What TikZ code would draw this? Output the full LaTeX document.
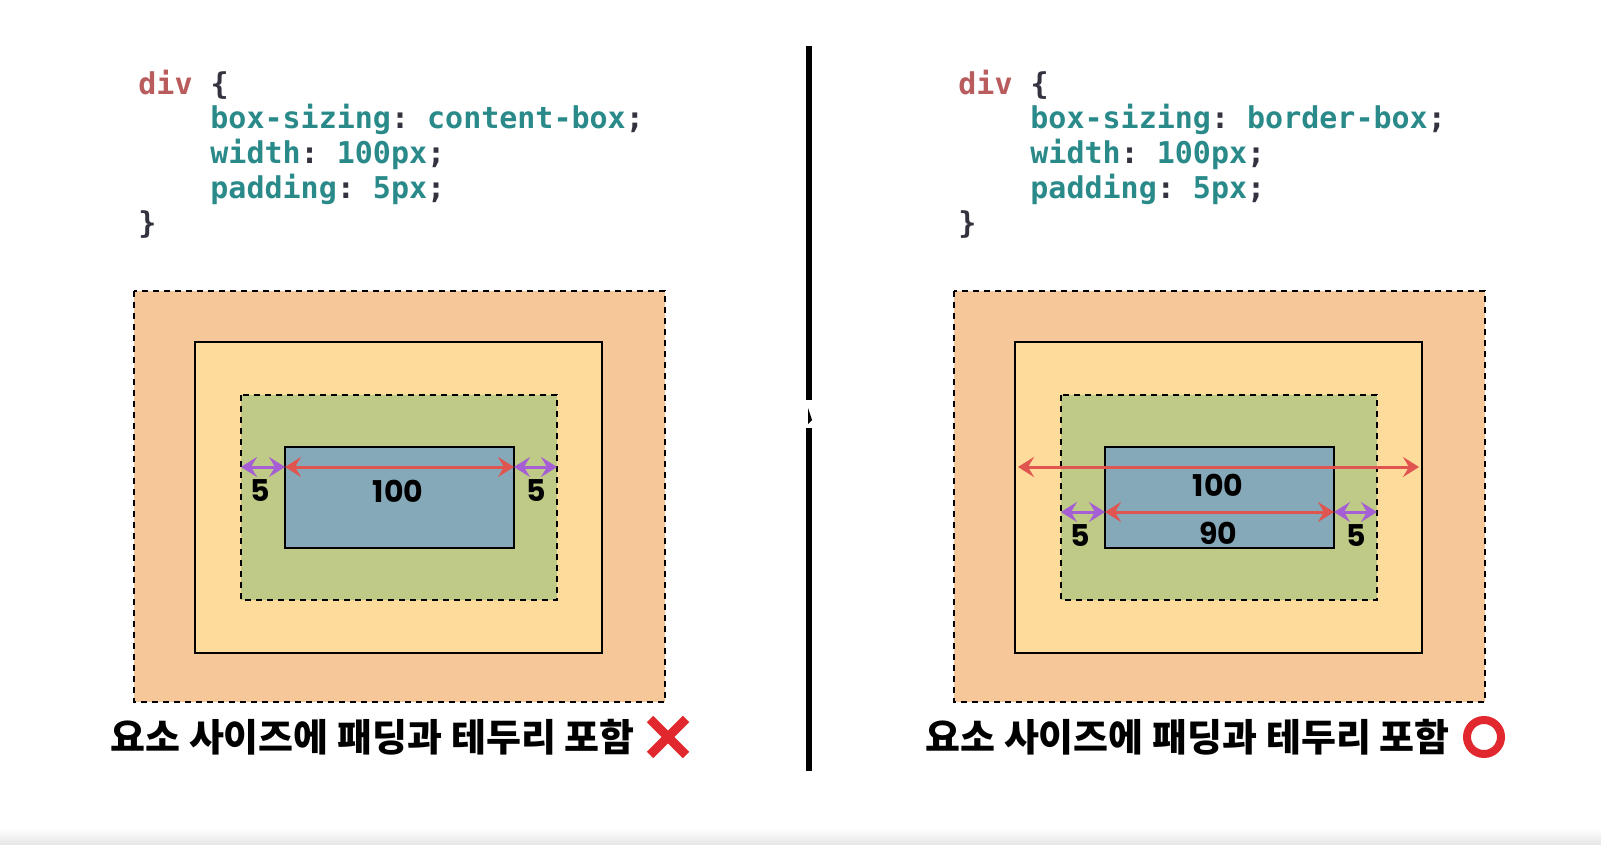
\documentclass[tikz,border=0pt]{standalone}
\usepackage{fontspec}
\usepackage{tikz}
\usetikzlibrary{arrows.meta}

\newfontfamily\codefont{DejaVu Sans Mono}
\newfontfamily\numfont{Poppins}
\newfontfamily\kofont{Noto Sans CJK KR}[BoldFont={Noto Sans CJK KR Black}]

\definecolor{cssred}{HTML}{B95C5E}
\definecolor{cssteal}{HTML}{2A8A8A}
\definecolor{cssdark}{HTML}{333340}
\definecolor{marginc}{HTML}{F6C799}
\definecolor{borderc}{HTML}{FDDB9A}
\definecolor{padc}{HTML}{BFCA86}
\definecolor{contentc}{HTML}{85A9B9}
\definecolor{redarrow}{HTML}{E0554F}
\definecolor{purplearrow}{HTML}{A55ED3}
\definecolor{markred}{HTML}{E0282E}

\tikzset{
	marginbox/.style={fill=marginc, draw=black, line width=1.2pt, dash pattern=on 3pt off 2.5pt},
	borderbox/.style={fill=borderc, draw=black, line width=1.2pt},
	padbox/.style={fill=padc, draw=black, line width=1.2pt, dash pattern=on 3pt off 2.5pt},
	contentbox/.style={fill=contentc, draw=black, line width=1.2pt},
	widtharrow/.style={redarrow, line width=1.5pt, {Stealth[length=8pt,width=10pt,inset=3pt]}-{Stealth[length=8pt,width=10pt,inset=3pt]}},
	padarrow/.style={purplearrow, line width=1.5pt, {Stealth[length=8pt,width=10pt,inset=3pt]}-{Stealth[length=8pt,width=10pt,inset=3pt]}},
	codeline/.style={anchor=base west, inner sep=0pt, font=\codefont\bfseries\fontsize{15}{18}\selectfont\frenchspacing},
	numlabel/.style={inner sep=0pt, font=\numfont\bfseries\fontsize{15}{18}\selectfont},
	caption/.style={inner sep=0pt, font=\kofont\bfseries\fontsize{19}{22}\selectfont}
}

\begin{document}
\begin{tikzpicture}[x=0.5pt,y=-0.5pt]
	
	\useasboundingbox (0,0) rectangle (1601,845);
	\fill[white] (0,0) rectangle (1601,845);
	\shade[top color=white, bottom color=black!10] (0,828) rectangle (1601,845);
	
	% left: content-box
	\node[codeline] (ldiv) at (138,95) {{\color{cssred}div} {\color{cssdark}\{}};
	\node[codeline] (lsizing) at (210,129) {{\color{cssteal}box-sizing}{\color{cssdark}:} {\color{cssteal}content-box}{\color{cssdark};}};
	\node[codeline] (lwidth) at (210,164) {{\color{cssteal}width}{\color{cssdark}:} {\color{cssteal}100px}{\color{cssdark};}};
	\node[codeline] (lpad) at (210,199) {{\color{cssteal}padding}{\color{cssdark}:} {\color{cssteal}5px}{\color{cssdark};}};
	\node[codeline] (lend) at (138,234) {{\color{cssdark}\}}};
	
	\draw[marginbox] (134,291) rectangle (665,702);
	\draw[borderbox] (195,342) rectangle (602,653);
	\draw[padbox] (241,395) rectangle (557,600);
	\draw[contentbox] (285,447) rectangle (514,548);
	
	\coordinate (lp1) at (241,467);
	\coordinate (lc1) at (285,467);
	\coordinate (lc2) at (514,467);
	\coordinate (lp2) at (557,467);
	\draw[padarrow] (lp1) -- (lc1);
	\draw[widtharrow] (lc1) -- (lc2);
	\draw[padarrow] (lc2) -- (lp2);
	
	\node[numlabel] (lfive1) at (260,491) {5};
	\node[numlabel] (lhundred) at (398,491) {100};
	\node[numlabel] (lfive2) at (536,491) {5};
	
	\node[caption, anchor=west] (lcaption) at (110,737) {요소 사이즈에 패딩과 테두리 포함};
	\coordinate (lx) at (668,737);
	\draw[markred, line width=4.5pt] ([shift={(-18,-18)}]lx) -- ([shift={(18,18)}]lx);
	\draw[markred, line width=4.5pt] ([shift={(-18,18)}]lx) -- ([shift={(18,-18)}]lx);
	
	% divider
	\draw[black, line width=3.2pt] (809,46) -- (809,400);
	\draw[black, line width=3.2pt] (809,428) -- (809,771);
	\fill[black] (808,408) -- (812,420) -- (808,424) -- cycle;
	
	% right: border-box
	\node[codeline] (rdiv) at (958,95) {{\color{cssred}div} {\color{cssdark}\{}};
	\node[codeline] (rsizing) at (1030,129) {{\color{cssteal}box-sizing}{\color{cssdark}:} {\color{cssteal}border-box}{\color{cssdark};}};
	\node[codeline] (rwidth) at (1030,164) {{\color{cssteal}width}{\color{cssdark}:} {\color{cssteal}100px}{\color{cssdark};}};
	\node[codeline] (rpad) at (1030,199) {{\color{cssteal}padding}{\color{cssdark}:} {\color{cssteal}5px}{\color{cssdark};}};
	\node[codeline] (rend) at (958,234) {{\color{cssdark}\}}};
	
	\draw[marginbox] (954,291) rectangle (1485,702);
	\draw[borderbox] (1015,342) rectangle (1422,653);
	\draw[padbox] (1061,395) rectangle (1377,600);
	\draw[contentbox] (1105,447) rectangle (1334,548);
	
	\coordinate (rb1) at (1018,467);
	\coordinate (rb2) at (1419,467);
	\draw[widtharrow] (rb1) -- (rb2);
	
	\coordinate (rp1) at (1061,512);
	\coordinate (rc1) at (1105,512);
	\coordinate (rc2) at (1334,512);
	\coordinate (rp2) at (1377,512);
	\draw[padarrow] (rp1) -- (rc1);
	\draw[widtharrow] (rc1) -- (rc2);
	\draw[padarrow] (rc2) -- (rp2);
	
	\node[numlabel] (rhundred) at (1218,485) {100};
	\node[numlabel] (rninety) at (1218,533) {90};
	\node[numlabel] (rfive1) at (1080,536) {5};
	\node[numlabel] (rfive2) at (1356,536) {5};
	
	\node[caption, anchor=west] (rcaption) at (925,737) {요소 사이즈에 패딩과 테두리 포함};
	\draw[markred, line width=4pt] (1484,737) circle (17);
	
\end{tikzpicture}
\end{document}
